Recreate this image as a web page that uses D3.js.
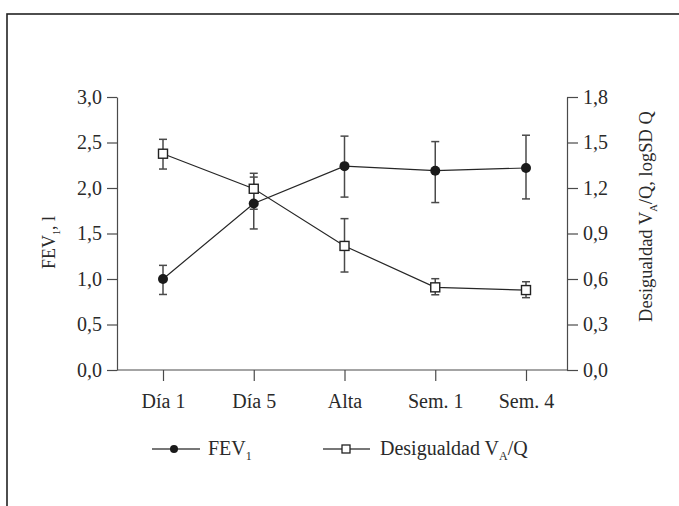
<!DOCTYPE html>
<html>
<head>
<meta charset="utf-8">
<script src="https://cdn.jsdelivr.net/npm/d3@7"></script>
<style>
  body { margin: 0; background: #fff; }
  svg text { font-family: "Liberation Serif", "DejaVu Serif", serif; fill: #2a2a2a; }
</style>
</head>
<body>
<svg id="chart" width="679" height="506"></svg>
<script>
// data
const categories = ["Día 1", "Día 5", "Alta", "Sem. 1", "Sem. 4"];
const fev = [1.00, 1.83, 2.24, 2.19, 2.22];
const fevLo = [0.83, 1.55, 1.90, 1.84, 1.88];
const fevHi = [1.15, 2.12, 2.57, 2.51, 2.58];
const vq = [1.426, 1.195, 0.818, 0.545, 0.527];
const vqLo = [1.325, 1.06, 0.646, 0.496, 0.477];
const vqHi = [1.521, 1.297, 0.998, 0.602, 0.582];
const leftTicks = [0, 0.5, 1.0, 1.5, 2.0, 2.5, 3.0];
const rightTicks = [0, 0.3, 0.6, 0.9, 1.2, 1.5, 1.8];

const svg = d3.select("#chart");
const axisCol = "#4a4a4a", lineCol = "#262626";
const pLeft = 117, pRight = 567, pTop = 97, pBottom = 370;

// outer frame (runs off the page right and bottom)
svg.append("rect")
  .attr("x", 7).attr("y", 14).attr("width", 720).attr("height", 600)
  .attr("fill", "none").attr("stroke", "#222").attr("stroke-width", 1.6);

const x = d3.scalePoint().domain(categories).range([163, 526]);
const yL = d3.scaleLinear().domain([0, 3]).range([pBottom, pTop]);
const yR = d3.scaleLinear().domain([0, 1.8]).range([pBottom, pTop]);
const fmt = d => d.toFixed(1).replace(".", ",");

function styleAxis(g) {
  g.selectAll("path, line").attr("stroke", axisCol).attr("stroke-width", 1.2);
  g.selectAll("text").attr("font-size", 20).attr("fill", "#2a2a2a")
    .attr("font-family", "Liberation Serif, serif");
}

svg.append("g").attr("transform", `translate(${pLeft},0)`)
  .call(d3.axisLeft(yL).tickValues(leftTicks).tickFormat(fmt)
    .tickSize(10).tickSizeOuter(0).tickPadding(5))
  .call(styleAxis);

svg.append("g").attr("transform", `translate(${pRight},0)`)
  .call(d3.axisRight(yR).tickValues(rightTicks).tickFormat(fmt)
    .tickSize(11).tickSizeOuter(0).tickPadding(5))
  .call(styleAxis);

const xg = svg.append("g").attr("transform", `translate(0,${pBottom})`)
  .call(d3.axisBottom(x).tickSize(11).tickPadding(13));
xg.select(".domain").remove();
xg.append("line").attr("x1", pLeft).attr("x2", pRight);
xg.call(styleAxis);

// axis titles
const lt = svg.append("text")
  .attr("transform", `translate(55,${(pTop + pBottom) / 2 + 9}) rotate(-90)`)
  .attr("text-anchor", "middle").attr("font-size", 18);
lt.append("tspan").text("FEV");
lt.append("tspan").attr("font-size", 10).attr("dy", 5).text("1");
lt.append("tspan").attr("dy", -5).text(", l");

const rt = svg.append("text")
  .attr("transform", `translate(652,${(pTop + pBottom) / 2 - 17}) rotate(-90)`)
  .attr("text-anchor", "middle").attr("font-size", 18.5);
rt.append("tspan").text("Desigualdad V");
rt.append("tspan").attr("font-size", 10.5).attr("dy", 5).text("A");
rt.append("tspan").attr("dy", -5).text("/Q, logSD Q");

// error bars
function errorBars(lo, hi, y) {
  const g = svg.append("g").attr("stroke", "#4a4a4a").attr("stroke-width", 1.5);
  categories.forEach((c, i) => {
    const cx = x(c);
    g.append("line").attr("x1", cx).attr("x2", cx).attr("y1", y(lo[i])).attr("y2", y(hi[i]));
    g.append("line").attr("x1", cx - 4).attr("x2", cx + 4).attr("y1", y(lo[i])).attr("y2", y(lo[i]));
    g.append("line").attr("x1", cx - 4).attr("x2", cx + 4).attr("y1", y(hi[i])).attr("y2", y(hi[i]));
  });
}
errorBars(fevLo, fevHi, yL);
errorBars(vqLo, vqHi, yR);

const line = y => d3.line().x((d, i) => x(categories[i])).y(d => y(d));

svg.append("path").datum(fev).attr("d", line(yL))
  .attr("fill", "none").attr("stroke", lineCol).attr("stroke-width", 1.2);
svg.append("path").datum(vq).attr("d", line(yR))
  .attr("fill", "none").attr("stroke", lineCol).attr("stroke-width", 1.2);

svg.selectAll(".fevpt").data(fev).join("circle").attr("class", "fevpt")
  .attr("cx", (d, i) => x(categories[i])).attr("cy", d => yL(d))
  .attr("r", 5).attr("fill", "#1a1a1a");

svg.selectAll(".vqpt").data(vq).join("rect").attr("class", "vqpt")
  .attr("x", (d, i) => x(categories[i]) - 4.5).attr("y", d => yR(d) - 4.5)
  .attr("width", 9).attr("height", 9)
  .attr("fill", "#fff").attr("stroke", "#222").attr("stroke-width", 1.4);

// legend
const ly = 449;
const leg = svg.append("g");
leg.append("line").attr("x1", 152).attr("x2", 200).attr("y1", ly).attr("y2", ly)
  .attr("stroke", "#4a4a4a").attr("stroke-width", 1.4);
leg.append("circle").attr("cx", 174).attr("cy", ly).attr("r", 4).attr("fill", "#1a1a1a");
const l1 = leg.append("text").attr("x", 208).attr("y", ly + 6).attr("font-size", 20);
l1.append("tspan").text("FEV");
l1.append("tspan").attr("font-size", 12).attr("dy", 5).text("1");

leg.append("line").attr("x1", 323).attr("x2", 370).attr("y1", ly).attr("y2", ly)
  .attr("stroke", "#4a4a4a").attr("stroke-width", 1.4);
leg.append("rect").attr("x", 342).attr("y", ly - 4).attr("width", 8).attr("height", 8)
  .attr("fill", "#fff").attr("stroke", "#222").attr("stroke-width", 1.3);
const l2 = leg.append("text").attr("x", 380).attr("y", ly + 6).attr("font-size", 20);
l2.append("tspan").text("Desigualdad V");
l2.append("tspan").attr("font-size", 12).attr("dy", 5).text("A");
l2.append("tspan").attr("dy", -5).text("/Q");
</script>
</body>
</html>
